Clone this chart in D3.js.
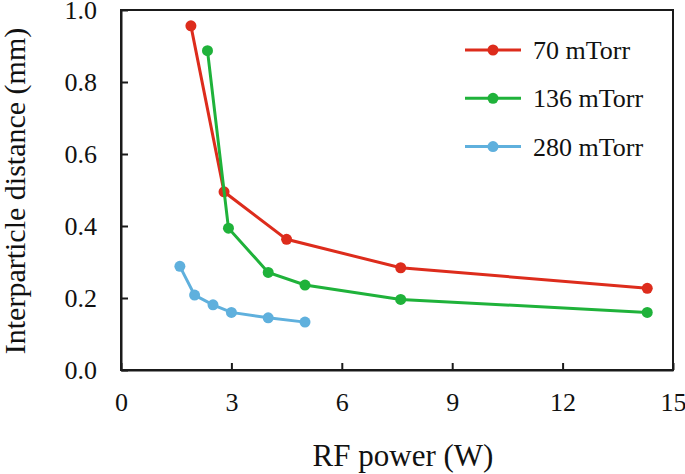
<!DOCTYPE html>
<html>
<head>
<meta charset="utf-8">
<script src="https://cdn.jsdelivr.net/npm/d3@7"></script>
<style>
  html, body { margin: 0; padding: 0; background: #fff; }
  svg { display: block; }
  text { font-family: "Liberation Serif", "Times New Roman", serif; fill: #111; }
</style>
</head>
<body>
<svg id="chart" width="685" height="474"></svg>
<script>
const seriesNames = ["70 mTorr", "136 mTorr", "280 mTorr"];
const seriesColors = ["#dd2c1c", "#1fb23a", "#5fb0dd"];
const x70 = [1.9, 2.8, 4.5, 7.6, 14.3];
const y70 = [0.956, 0.495, 0.363, 0.284, 0.227];
const x136 = [2.35, 2.92, 4.0, 5.0, 7.6, 14.3];
const y136 = [0.887, 0.394, 0.271, 0.236, 0.196, 0.160];
const x280 = [1.6, 2.0, 2.5, 3.0, 4.0, 5.0];
const y280 = [0.288, 0.208, 0.181, 0.160, 0.145, 0.133];
const xTicks = [0, 3, 6, 9, 12, 15];
const yTicks = [0, 0.2, 0.4, 0.6, 0.8, 1.0];
const xTitle = "RF power (W)";
const yTitle = "Interparticle distance (mm)";

const series = [
  { name: seriesNames[0], color: seriesColors[0], xs: x70, ys: y70 },
  { name: seriesNames[1], color: seriesColors[1], xs: x136, ys: y136 },
  { name: seriesNames[2], color: seriesColors[2], xs: x280, ys: y280 }
];

const svg = d3.select("#chart");
const mL = 121, mR = 673, mT = 10, mB = 370;
const x = d3.scaleLinear().domain([0, 15]).range([mL, mR]);
const y = d3.scaleLinear().domain([0, 1.0]).range([mB, mT]);

// frame
svg.append("rect")
  .attr("x", mL).attr("y", mT)
  .attr("width", mR - mL).attr("height", mB - mT)
  .attr("fill", "none").attr("stroke", "#1a1a1a").attr("stroke-width", 2);

// x axis
const xAxis = d3.axisBottom(x).tickValues(xTicks).tickFormat(d3.format("d"))
  .tickSizeInner(-7).tickSizeOuter(0).tickPadding(23);
const gx = svg.append("g").attr("transform", `translate(0,${mB})`).call(xAxis);
gx.select(".domain").attr("stroke", "#1a1a1a").attr("stroke-width", 2);
gx.selectAll(".tick line").attr("stroke", "#1a1a1a").attr("stroke-width", 2);
gx.selectAll(".tick text").attr("font-size", 26)
  .attr("font-family", "Liberation Serif, serif").attr("fill", "#111");

// y axis
const yAxis = d3.axisLeft(y).tickValues(yTicks).tickFormat(d3.format(".1f"))
  .tickSizeInner(-7).tickSizeOuter(0).tickPadding(24);
const gy = svg.append("g").attr("transform", `translate(${mL},0)`).call(yAxis);
gy.select(".domain").attr("stroke", "#1a1a1a").attr("stroke-width", 2);
gy.selectAll(".tick line").attr("stroke", "#1a1a1a").attr("stroke-width", 2);
gy.selectAll(".tick text").attr("font-size", 26)
  .attr("font-family", "Liberation Serif, serif").attr("fill", "#111");

// axis titles
svg.append("text")
  .attr("x", 403).attr("y", 466)
  .attr("text-anchor", "middle").attr("font-size", 31)
  .text(xTitle);
svg.append("text")
  .attr("transform", `translate(25,${(mB + 20) / 2 - 4}) rotate(-90)`)
  .attr("text-anchor", "middle").attr("font-size", 30)
  .text(yTitle);

// series
const line = d3.line().x(d => x(d[0])).y(d => y(d[1]));
series.forEach(s => {
  const pts = s.xs.map((v, i) => [v, s.ys[i]]);
  svg.append("path").datum(pts)
    .attr("d", line).attr("fill", "none")
    .attr("stroke", s.color).attr("stroke-width", 3);
  svg.selectAll(null).data(pts).enter().append("circle")
    .attr("cx", d => x(d[0])).attr("cy", d => y(d[1]))
    .attr("r", 5.5).attr("fill", s.color);
});

// legend
const lg = svg.append("g");
series.forEach((s, i) => {
  const ly = 50 + i * 48.3;
  lg.append("line").attr("x1", 465).attr("x2", 521).attr("y1", ly).attr("y2", ly)
    .attr("stroke", s.color).attr("stroke-width", 3);
  lg.append("circle").attr("cx", 493).attr("cy", ly).attr("r", 5.5).attr("fill", s.color);
  lg.append("text").attr("x", 533).attr("y", ly).attr("dy", "0.35em")
    .attr("font-size", 26).text(s.name);
});
</script>
</body>
</html>
